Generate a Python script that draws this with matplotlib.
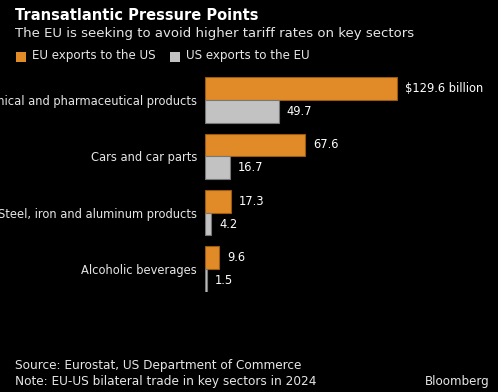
import matplotlib
matplotlib.use("Agg")
import matplotlib.pyplot as plt
import numpy as np
from matplotlib.patches import Rectangle

categories = ["Chemical and pharmaceutical products", "Cars and car parts",
              "Steel, iron and aluminum products", "Alcoholic beverages"]
eu_to_us = [129.6, 67.6, 17.3, 9.6]
us_to_eu = [49.7, 16.7, 4.2, 1.5]
value_labels_eu = ["$129.6 billion", "67.6", "17.3", "9.6"]
value_labels_us = ["49.7", "16.7", "4.2", "1.5"]

W, H = 498, 392
plt.rcParams['font.family'] = ['DejaVu Sans']
fig = plt.figure(figsize=(W/100, H/100), dpi=100, facecolor="black")

ORANGE = "#E08B27"
GREY = "#C2C2C2"
TXT = "#E6E6E6"

px_left, px_right = 205, 480
px_top, px_bot = 77.3, 291.7
scale = (396.7 - 205) / 129.6
ax = fig.add_axes([px_left/W, 1 - px_bot/H, (px_right-px_left)/W, (px_bot-px_top)/H])
ax.set_facecolor("black")
bh = 0.403
ax.set_xlim(0, (px_right - px_left) / scale)
ax.set_ylim(3 + bh, -bh)
y = np.arange(len(categories))
ax.barh(y - bh/2, eu_to_us, height=bh, color=ORANGE, edgecolor="#9A5A14", linewidth=0.8)
ax.barh(y + bh/2, us_to_eu, height=bh, color=GREY, edgecolor="#777777", linewidth=0.8)
off = 8 / scale
for i in range(len(categories)):
    ax.text(eu_to_us[i] + off, y[i] - bh/2, value_labels_eu[i], color="white",
            va="center", ha="left", fontsize=8.3)
    ax.text(us_to_eu[i] + off, y[i] + bh/2, value_labels_us[i], color="white",
            va="center", ha="left", fontsize=8.3)
ax.set_yticks(y)
ax.set_yticklabels(categories, color=TXT, fontsize=8.3)
ax.tick_params(axis="y", length=0, pad=5.8)
ax.set_xticks([])
for s in ax.spines.values():
    s.set_visible(False)

fig.text(15/W, 1 - 15/H, "Transatlantic Pressure Points", color="white",
         fontsize=10.5, fontweight="bold", va="center", ha="left")
fig.text(15/W, 1 - 34/H, "The EU is seeking to avoid higher tariff rates on key sectors",
         color=TXT, fontsize=9.5, va="center", ha="left")
# legend
fig.patches.append(Rectangle((16/W, 1 - 62/H), 10/W, 10/H, transform=fig.transFigure,
                             facecolor=ORANGE, edgecolor="none"))
fig.text(32/W, 1 - 56/H, "EU exports to the US", color=TXT, fontsize=8.6, va="center", ha="left")
fig.patches.append(Rectangle((170/W, 1 - 62/H), 10/W, 10/H, transform=fig.transFigure,
                             facecolor=GREY, edgecolor="none"))
fig.text(186/W, 1 - 56/H, "US exports to the EU", color=TXT, fontsize=8.6, va="center", ha="left")

fig.text(15/W, 1 - 366/H, "Source: Eurostat, US Department of Commerce", color=TXT,
         fontsize=8.7, va="center", ha="left")
fig.text(15/W, 1 - 381/H, "Note: EU-US bilateral trade in key sectors in 2024", color=TXT,
         fontsize=8.7, va="center", ha="left")
fig.text(490/W, 1 - 381/H, "Bloomberg", color=TXT, fontsize=8.6, va="center", ha="right")

fig.savefig("out.png", dpi=100, facecolor="black")
